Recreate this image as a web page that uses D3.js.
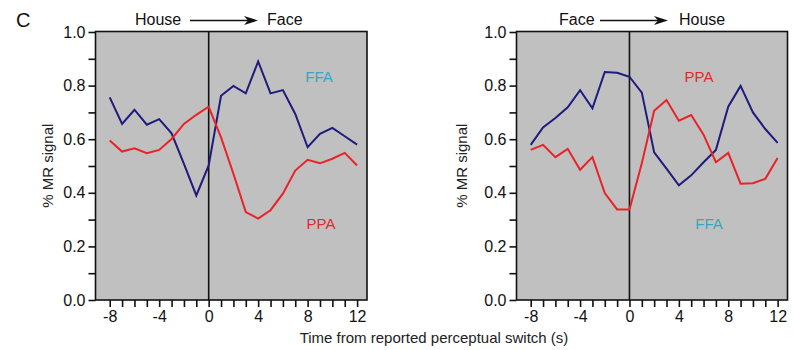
<!DOCTYPE html>
<html>
<head>
<meta charset="utf-8">
<script src="https://cdn.jsdelivr.net/npm/d3@7"></script>
<style>
  html, body { margin: 0; padding: 0; background: #ffffff; }
  svg { display: block; font-family: "Liberation Sans", Arial, sans-serif; }
</style>
</head>
<body>
<svg id="chart" width="793" height="350"></svg>
<script>
// ---- Data ----
const time = [-8,-7,-6,-5,-4,-3,-2,-1,0,1,2,3,4,5,6,7,8,9,10,11,12];
const xTickLabels = [-8,-4,0,4,8,12];
const yTickLabels = [0.0,0.2,0.4,0.6,0.8,1.0];

// House -> Face
const houseFaceFFA = [0.756,0.657,0.710,0.654,0.675,0.622,0.508,0.390,0.502,0.762,0.799,0.771,0.890,0.771,0.783,0.694,0.570,0.620,0.642,0.611,0.580];
const houseFacePPA = [0.595,0.554,0.566,0.548,0.560,0.601,0.657,0.691,0.721,0.607,0.471,0.328,0.304,0.335,0.397,0.483,0.523,0.510,0.527,0.549,0.502];
// Face -> House
const faceHouseFFA = [0.579,0.644,0.679,0.719,0.783,0.715,0.851,0.848,0.833,0.774,0.551,0.490,0.428,0.465,0.514,0.560,0.721,0.799,0.700,0.638,0.586];
const faceHousePPA = [0.560,0.579,0.533,0.564,0.486,0.533,0.399,0.338,0.338,0.510,0.706,0.746,0.669,0.690,0.617,0.514,0.549,0.434,0.436,0.452,0.530];

const panelTitles = [["House","Face"],["Face","House"]];

// ---- Style ----
const BG = "#c0c0c0";
const FFA_LINE = "#1e1b7c";
const PPA_LINE = "#ea2228";
const FFA_LABEL = "#35a5c9";
const PPA_LABEL = "#e8262b";

const svg = d3.select("#chart");

const panels = [
  { x0: 95.5, x1: 367, ffa: houseFaceFFA, ppa: houseFacePPA, title: panelTitles[0],
    ffaLab: [319, 82], ppaLab: [321, 229],
    titleX: [135, 190, 258, 267], yTitleX: 47 },
  { x0: 516.5, x1: 787.5, ffa: faceHouseFFA, ppa: faceHousePPA, title: panelTitles[1],
    ffaLab: [709, 229], ppaLab: [699, 82],
    titleX: [559, 600, 668, 679], yTitleX: 461 }
];

const yTop = 31.5, yBot = 300;
const y = d3.scaleLinear().domain([0, 1]).range([yBot, 32]);

panels.forEach(p => {
  const x = d3.scaleLinear().domain([-9.15, 12.8]).range([p.x0, p.x1]);
  const g = svg.append("g");

  // background
  g.append("rect")
    .attr("x", p.x0).attr("y", yTop)
    .attr("width", p.x1 - p.x0).attr("height", yBot - yTop)
    .attr("fill", BG);

  // zero line
  g.append("line")
    .attr("x1", x(0)).attr("x2", x(0))
    .attr("y1", yTop).attr("y2", yBot)
    .attr("stroke", "#111").attr("stroke-width", 1.6);

  // lines
  const line = d3.line().x((d, i) => x(time[i])).y(d => y(d));
  g.append("path").datum(p.ffa).attr("d", line)
    .attr("fill", "none").attr("stroke", FFA_LINE).attr("stroke-width", 2)
    .attr("stroke-linejoin", "miter");
  g.append("path").datum(p.ppa).attr("d", line)
    .attr("fill", "none").attr("stroke", PPA_LINE).attr("stroke-width", 2)
    .attr("stroke-linejoin", "miter");

  // frame
  g.append("rect")
    .attr("x", p.x0).attr("y", yTop)
    .attr("width", p.x1 - p.x0).attr("height", yBot - yTop)
    .attr("fill", "none").attr("stroke", "#111").attr("stroke-width", 1.6);

  // x axis
  const xAxis = d3.axisBottom(x)
    .tickValues(time)
    .tickSize(7)
    .tickPadding(4)
    .tickFormat(d => xTickLabels.includes(d) ? String(d) : "");
  const xa = g.append("g").attr("transform", `translate(0,${yBot})`).call(xAxis);
  xa.select(".domain").remove();
  xa.selectAll(".tick line").attr("stroke", "#111").attr("stroke-width", 1.6);
  xa.selectAll(".tick text").attr("font-size", 16).attr("fill", "#111")
    .attr("font-family", "'Liberation Sans', Arial, sans-serif");

  // y axis
  const yAxis = d3.axisLeft(y)
    .tickValues(d3.range(0, 11).map(i => i / 10))
    .tickSize(7)
    .tickPadding(3)
    .tickFormat(d => yTickLabels.some(v => Math.abs(v - d) < 1e-9) ? d3.format(".1f")(d) : "");
  const ya = g.append("g").attr("transform", `translate(${p.x0},0)`).call(yAxis);
  ya.select(".domain").remove();
  ya.selectAll(".tick line").attr("stroke", "#111").attr("stroke-width", 1.6);
  ya.selectAll(".tick text").attr("font-size", 16).attr("fill", "#111")
    .attr("font-family", "'Liberation Sans', Arial, sans-serif");

  // y title
  g.append("text")
    .attr("transform", `translate(${p.yTitleX},${(yTop + yBot) / 2}) rotate(-90)`)
    .attr("text-anchor", "middle").attr("dominant-baseline", "central")
    .attr("font-size", 15).attr("fill", "#222")
    .text("% MR signal");

  // series labels
  g.append("text").attr("x", p.ffaLab[0]).attr("y", p.ffaLab[1])
    .attr("text-anchor", "middle").attr("font-size", 15).attr("fill", FFA_LABEL).text("FFA");
  g.append("text").attr("x", p.ppaLab[0]).attr("y", p.ppaLab[1])
    .attr("text-anchor", "middle").attr("font-size", 15).attr("fill", PPA_LABEL).text("PPA");

  // panel title with arrow
  const ty = 25;
  g.append("text").attr("x", p.titleX[0]).attr("y", ty)
    .attr("font-size", 16).attr("fill", "#111").text(p.title[0]);
  const ay = 20.5;
  g.append("line")
    .attr("x1", p.titleX[1]).attr("x2", p.titleX[2] - 8)
    .attr("y1", ay).attr("y2", ay)
    .attr("stroke", "#111").attr("stroke-width", 1.4);
  const tip = p.titleX[2];
  g.append("path")
    .attr("d", `M${tip},${ay} L${tip - 14},${ay - 4.5} L${tip - 10},${ay} L${tip - 14},${ay + 4.5} Z`)
    .attr("fill", "#111");
  g.append("text").attr("x", p.titleX[3]).attr("y", ty)
    .attr("font-size", 16).attr("fill", "#111").text(p.title[1]);
});

// Panel letter
svg.append("text").attr("x", 16).attr("y", 27)
  .attr("font-size", 20).attr("fill", "#111").text("C");

// x title
svg.append("text").attr("x", 434).attr("y", 343)
  .attr("text-anchor", "middle").attr("font-size", 15).attr("fill", "#222")
  .text("Time from reported perceptual switch (s)");
</script>
</body>
</html>
